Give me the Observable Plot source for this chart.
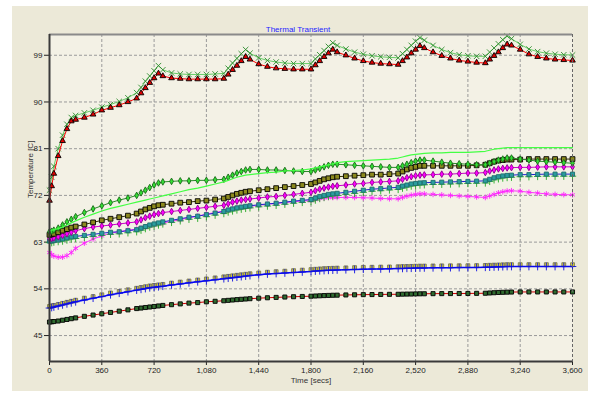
<!DOCTYPE html>
<html>
<head>
<meta charset="utf-8">
<script src="https://cdn.jsdelivr.net/npm/d3@7"></script>
<script src="https://cdn.jsdelivr.net/npm/@observablehq/plot@0.6"></script>
<style>
  html, body { margin: 0; padding: 0; background: #ffffff; }
  #wrap { position: relative; width: 590px; height: 394px; overflow: hidden; }
  #panel { position: absolute; left: 12px; top: 6px; width: 576px; height: 385px; background: #ECE9D8; }
  #chart { position: absolute; left: 0; top: 0; }
</style>
</head>
<body>
<div id="wrap"><div id="panel"></div><div id="chart"></div></div>
<script>
// Simulation output times (s); shorter steps during each heating pulse
const times = [0,15,30,60,90,120,150,180,240,300,
  360,420,480,540,600,630,660,690,720,750,
  780,840,900,960,1020,1080,1140,1200,1230,1260,
  1290,1320,1350,1380,1440,1500,1560,1620,1680,1740,
  1800,1830,1860,1890,1920,1950,1980,2040,2100,2160,
  2220,2280,2340,2400,2430,2460,2490,2520,2550,2580,
  2640,2700,2760,2820,2880,2940,3000,3030,3060,3090,
  3120,3150,3180,3240,3300,3360,3420,3480,3540,3600];

const xTicks = [0,360,720,1080,1440,1800,2160,2520,2880,3240,3600];
const yTicks = [45,54,63,72,81,90,99];

// Temperatures (C)
const hotspotGreen = [73.0,75.5,77.6,81.0,83.6,85.7,87.0,87.4,87.9,88.4,
  89.0,89.5,90.1,90.8,91.8,92.8,94.0,95.0,96.0,97.0,
  96.2,95.6,95.4,95.3,95.3,95.3,95.4,95.5,96.5,97.5,
  98.4,99.3,100.1,99.4,98.5,98.0,97.7,97.5,97.4,97.4,
  97.4,98.3,99.1,99.9,100.7,101.4,100.9,100.2,99.6,99.2,
  98.9,98.7,98.6,98.5,99.3,100.1,100.9,101.7,102.4,101.9,
  100.9,100.1,99.5,99.1,98.9,98.8,98.8,99.6,100.4,101.2,
  102.0,102.7,102.2,101.1,100.2,99.7,99.4,99.2,99.1,99.05];

const hotspotRed = [71.0,73.8,76.2,79.6,82.5,84.8,86.3,86.6,87.0,87.6,
  88.4,88.9,89.4,90.0,90.7,91.7,92.7,93.7,94.6,95.5,
  95.0,94.6,94.5,94.4,94.4,94.4,94.4,94.5,95.3,96.2,
  97.0,97.9,98.7,98.2,97.3,96.8,96.5,96.4,96.3,96.3,
  96.3,97.1,97.9,98.7,99.4,100.1,99.6,99.0,98.4,97.9,
  97.6,97.4,97.3,97.2,97.9,98.6,99.4,100.1,100.8,100.4,
  99.6,98.9,98.4,98.0,97.8,97.6,97.5,98.2,98.9,99.6,
  100.4,101.1,100.9,100.1,99.2,98.7,98.4,98.2,98.1,98.0];

const brightGreen = [65.2,65.3,65.4,65.6,65.9,66.3,66.7,67.1,67.8,68.4,
  69.0,69.5,69.9,70.3,70.7,70.9,71.1,71.3,71.5,71.7,
  71.9,72.3,72.7,73.1,73.4,73.8,74.2,74.6,74.9,75.2,
  75.5,75.7,75.9,76.0,76.2,76.4,76.5,76.7,76.8,76.9,
  77.1,77.3,77.5,77.7,77.9,78.1,78.3,78.5,78.6,78.7,
  78.8,78.9,79.0,79.2,79.4,79.6,79.8,79.9,80.0,80.1,
  80.2,80.2,80.3,80.3,80.3,80.4,80.5,80.7,80.9,81.0,
  81.1,81.2,81.2,81.2,81.2,81.2,81.2,81.2,81.2,81.2];

const greenDiamond = [65.0,65.1,65.3,65.7,66.3,66.9,67.4,67.9,68.7,69.4,
  70.0,70.6,71.1,71.5,72.0,72.5,73.0,73.5,74.0,74.4,
  74.6,74.7,74.8,74.8,74.9,74.9,75.0,75.1,75.5,75.9,
  76.3,76.6,76.9,77.0,77.0,76.9,76.9,76.8,76.7,76.6,
  76.6,76.9,77.2,77.5,77.8,78.0,78.0,77.9,77.8,77.7,
  77.6,77.5,77.4,77.4,77.7,78.0,78.3,78.6,78.8,78.8,
  78.6,78.4,78.2,78.1,78.0,77.9,77.9,78.2,78.5,78.8,
  79.0,79.2,79.2,79.0,78.8,78.6,78.5,78.4,78.3,78.2];

const oliveSquare = [64.4,64.5,64.6,64.9,65.2,65.5,65.8,66.0,66.4,66.8,
  67.2,67.5,67.8,68.1,68.5,68.9,69.3,69.6,69.9,70.1,
  70.2,70.4,70.6,70.7,70.9,71.0,71.2,71.4,71.7,72.0,
  72.3,72.5,72.7,72.8,73.0,73.2,73.4,73.6,73.8,74.0,
  74.2,74.5,74.8,75.1,75.3,75.5,75.6,75.7,75.8,75.9,
  76.0,76.0,76.1,76.2,76.6,77.0,77.3,77.5,77.7,77.7,
  77.7,77.7,77.7,77.7,77.7,77.8,77.9,78.2,78.5,78.7,
  78.8,78.9,78.9,78.9,79.0,79.0,79.0,79.0,79.0,79.0];

const magentaDiamond = [63.7,63.7,63.8,64.0,64.3,64.6,64.9,65.2,65.6,65.9,
  66.1,66.3,66.5,66.7,66.9,67.3,67.7,68.0,68.3,68.5,
  68.7,68.9,69.1,69.3,69.5,69.7,69.9,70.1,70.4,70.7,
  70.9,71.1,71.2,71.3,71.5,71.7,71.8,72.0,72.2,72.4,
  72.6,72.9,73.2,73.4,73.6,73.75,73.85,74.0,74.2,74.3,
  74.5,74.6,74.7,74.8,75.1,75.4,75.6,75.8,75.9,75.95,
  76.0,76.1,76.1,76.2,76.3,76.3,76.4,76.7,76.9,77.1,
  77.2,77.3,77.35,77.4,77.4,77.45,77.5,77.5,77.5,77.5];

const tealSquare = [63.2,63.2,63.3,63.4,63.6,63.8,64.0,64.1,64.3,64.5,
  64.7,64.9,65.0,65.2,65.4,65.7,66.0,66.3,66.5,66.7,
  66.9,67.2,67.5,67.8,68.0,68.3,68.6,68.9,69.2,69.4,
  69.6,69.75,69.9,70.0,70.2,70.35,70.5,70.7,70.9,71.05,
  71.2,71.5,71.8,72.0,72.2,72.3,72.4,72.6,72.8,73.0,
  73.2,73.3,73.45,73.55,73.8,74.0,74.2,74.3,74.4,74.45,
  74.5,74.55,74.6,74.65,74.7,74.75,74.8,75.1,75.4,75.6,
  75.75,75.85,75.9,76.0,76.0,76.05,76.1,76.1,76.1,76.1];

const greenPlus = [62.9,62.9,63.0,63.1,63.2,63.4,63.6,63.7,63.9,64.1,
  64.3,64.5,64.6,64.8,65.0,65.3,65.6,65.9,66.1,66.3,
  66.5,66.8,67.1,67.4,67.6,67.9,68.2,68.5,68.8,69.0,
  69.2,69.35,69.5,69.6,69.8,69.95,70.1,70.3,70.5,70.65,
  70.8,71.1,71.4,71.6,71.8,71.9,72.0,72.2,72.4,72.6,
  72.8,72.9,73.05,73.15,73.4,73.6,73.8,73.9,74.0,74.05,
  74.1,74.15,74.2,74.25,74.3,74.35,74.4,74.7,75.0,75.2,
  75.35,75.45,75.5,75.6,75.6,75.65,75.7,75.7,75.7,75.7];

const magentaStar = [61.0,60.6,60.3,60.1,60.1,60.4,61.0,61.8,62.8,63.6,
  64.2,64.7,65.0,65.3,65.5,65.7,65.9,66.1,66.3,66.5,
  66.7,67.0,67.3,67.7,68.0,68.4,68.7,69.0,69.2,69.4,
  69.6,69.7,69.8,69.9,70.1,70.3,70.45,70.6,70.8,70.9,
  71.0,71.2,71.4,71.5,71.6,71.6,71.6,71.6,71.6,71.55,
  71.5,71.4,71.35,71.35,71.6,71.85,72.05,72.2,72.3,72.3,
  72.2,72.1,72.0,71.9,71.8,71.7,71.6,71.9,72.2,72.5,
  72.7,72.85,72.9,72.8,72.6,72.45,72.3,72.2,72.15,72.1];

const lowYellow = [50.6,50.7,50.8,51.0,51.2,51.4,51.6,51.8,52.2,52.5,
  52.85,53.2,53.5,53.8,54.1,54.25,54.4,54.55,54.65,54.75,
  54.85,55.1,55.3,55.5,55.7,55.9,56.1,56.3,56.4,56.5,
  56.6,56.7,56.8,56.9,57.05,57.2,57.3,57.4,57.5,57.6,
  57.7,57.77,57.83,57.88,57.92,57.95,57.98,58.03,58.08,58.13,
  58.15,58.18,58.21,58.25,58.28,58.3,58.32,58.35,58.37,58.38,
  58.4,58.42,58.43,58.44,58.45,58.47,58.5,58.53,58.56,58.59,
  58.62,58.65,58.65,58.65,58.65,58.65,58.65,58.65,58.65,58.65];

const lowBlue = [50.3,50.4,50.5,50.7,50.9,51.1,51.3,51.5,51.85,52.2,
  52.5,52.85,53.15,53.45,53.75,53.9,54.05,54.2,54.3,54.4,
  54.5,54.75,54.95,55.15,55.35,55.55,55.75,55.95,56.05,56.15,
  56.25,56.35,56.45,56.55,56.7,56.85,56.95,57.05,57.15,57.25,
  57.35,57.42,57.48,57.53,57.57,57.6,57.63,57.68,57.73,57.78,
  57.8,57.83,57.86,57.9,57.93,57.95,57.97,58.0,58.02,58.03,
  58.05,58.07,58.08,58.09,58.1,58.12,58.15,58.18,58.21,58.24,
  58.27,58.3,58.3,58.3,58.3,58.3,58.3,58.3,58.3,58.3];

const lowest = [47.6,47.65,47.7,47.8,47.95,48.1,48.25,48.4,48.7,48.95,
  49.2,49.45,49.7,49.95,50.2,50.3,50.4,50.5,50.6,50.7,
  50.8,50.95,51.1,51.25,51.35,51.5,51.6,51.7,51.78,51.85,
  51.92,51.98,52.04,52.1,52.2,52.28,52.35,52.42,52.48,52.53,
  52.58,52.62,52.66,52.7,52.73,52.76,52.78,52.82,52.85,52.88,
  52.9,52.92,52.94,52.95,52.97,52.99,53.0,53.02,53.04,53.05,
  53.07,53.08,53.09,53.1,53.11,53.13,53.15,53.2,53.25,53.3,
  53.33,53.36,53.38,53.4,53.4,53.4,53.4,53.4,53.4,53.4];

// Series styles: line colour, marker symbol, marker fill / stroke, size
const series = [
  {v: lowest,         line: "#cc0000", sym: "square",   fill: "#2f6b2f", stroke: "#000000", r: 2.3},
  {v: lowYellow,      line: null,      sym: "square",   fill: "#d6cf3c", stroke: "#7a7a55", r: 2.2},
  {v: lowBlue,        line: "#0000ff", sym: "plus",     fill: "none",    stroke: "#1010e0", r: 2.6, lw: 1.5},
  {v: magentaStar,    line: "#ff33ff", sym: "asterisk", fill: "none",    stroke: "#ff22ff", r: 2.6},
  {v: greenPlus,      line: null,      sym: "plus",     fill: "none",    stroke: "#22aa22", r: 2.5},
  {v: tealSquare,     line: "#2020d0", sym: "square",   fill: "#2a9d9d", stroke: "#1d6e6e", r: 2.3},
  {v: magentaDiamond, line: "#cc00cc", sym: "diamond",  fill: "#ff00ff", stroke: "#8a008a", r: 2.0},
  {v: oliveSquare,    line: "#333300", sym: "square",   fill: "#8c8a1e", stroke: "#000000", r: 2.7},
  {v: greenDiamond,   line: "#2a8a2a", sym: "diamond",  fill: "#33dd33", stroke: "#1a6a1a", r: 2.0},
  {v: brightGreen,    line: "#44ff44", sym: null, lw: 1.2},
  {v: hotspotGreen,   line: "#66cc66", sym: "times",    fill: "none",    stroke: "#2e8b2e", r: 2.6},
  {v: hotspotRed,     line: "#ff0000", sym: "triangle", fill: "#e00000", stroke: "#000000", r: 2.1}
];

const seriesMarks = series.flatMap(s => {
  const rows = times.map((t, i) => ({t, temp: s.v[i]}));
  const m = [];
  if (s.line) m.push(Plot.line(rows, {x: "t", y: "temp", stroke: s.line, strokeWidth: s.lw || 1}));
  if (s.sym) m.push(Plot.dot(rows, {x: "t", y: "temp", symbol: s.sym, r: s.r, fill: s.fill, stroke: s.stroke, strokeWidth: 0.9}));
  return m;
});

const chart = Plot.plot({
  width: 590,
  height: 394,
  marginLeft: 49,
  marginRight: 18,
  marginTop: 34,
  marginBottom: 33,
  style: {background: "transparent", fontFamily: "'Liberation Sans', Arial, sans-serif", fontSize: "8px", color: "#222"},
  x: {domain: [0, 3600], ticks: xTicks, tickFormat: d3.format(","), tickSize: 4, tickPadding: 2, label: null},
  y: {domain: [40, 103], ticks: yTicks, tickSize: 5, tickPadding: 2, label: null},
  marks: [
    Plot.frame({fill: "#F3F1E5", stroke: null}),
    Plot.ruleX(xTicks, {stroke: "#9a9a9a", strokeDasharray: "3,2"}),
    Plot.ruleY(yTicks, {stroke: "#9a9a9a", strokeDasharray: "3,2"}),
    ...seriesMarks,
    Plot.ruleY([103], {stroke: "#8a8a8a", strokeWidth: 2}),
    Plot.ruleX([3600], {stroke: "#666666", strokeDasharray: "3,2"}),
    Plot.ruleX([0], {stroke: "#3a3a3a", strokeWidth: 2}),
    Plot.ruleY([40], {stroke: "#3a3a3a", strokeWidth: 2}),
    Plot.text(["Thermal Transient"], {text: d => d, frameAnchor: "top", dx: -13, dy: -8.5, fill: "#2424ff", fontSize: 8}),
    Plot.text(["Temperature [C]"], {text: d => d, frameAnchor: "left", rotate: -90, dx: -19, fill: "#333", fontSize: 8}),
    Plot.text(["Time [secs]"], {text: d => d, frameAnchor: "bottom", dy: 21.5, fill: "#333", fontSize: 8})
  ]
});
document.getElementById("chart").appendChild(chart);
</script>
</body>
</html>
